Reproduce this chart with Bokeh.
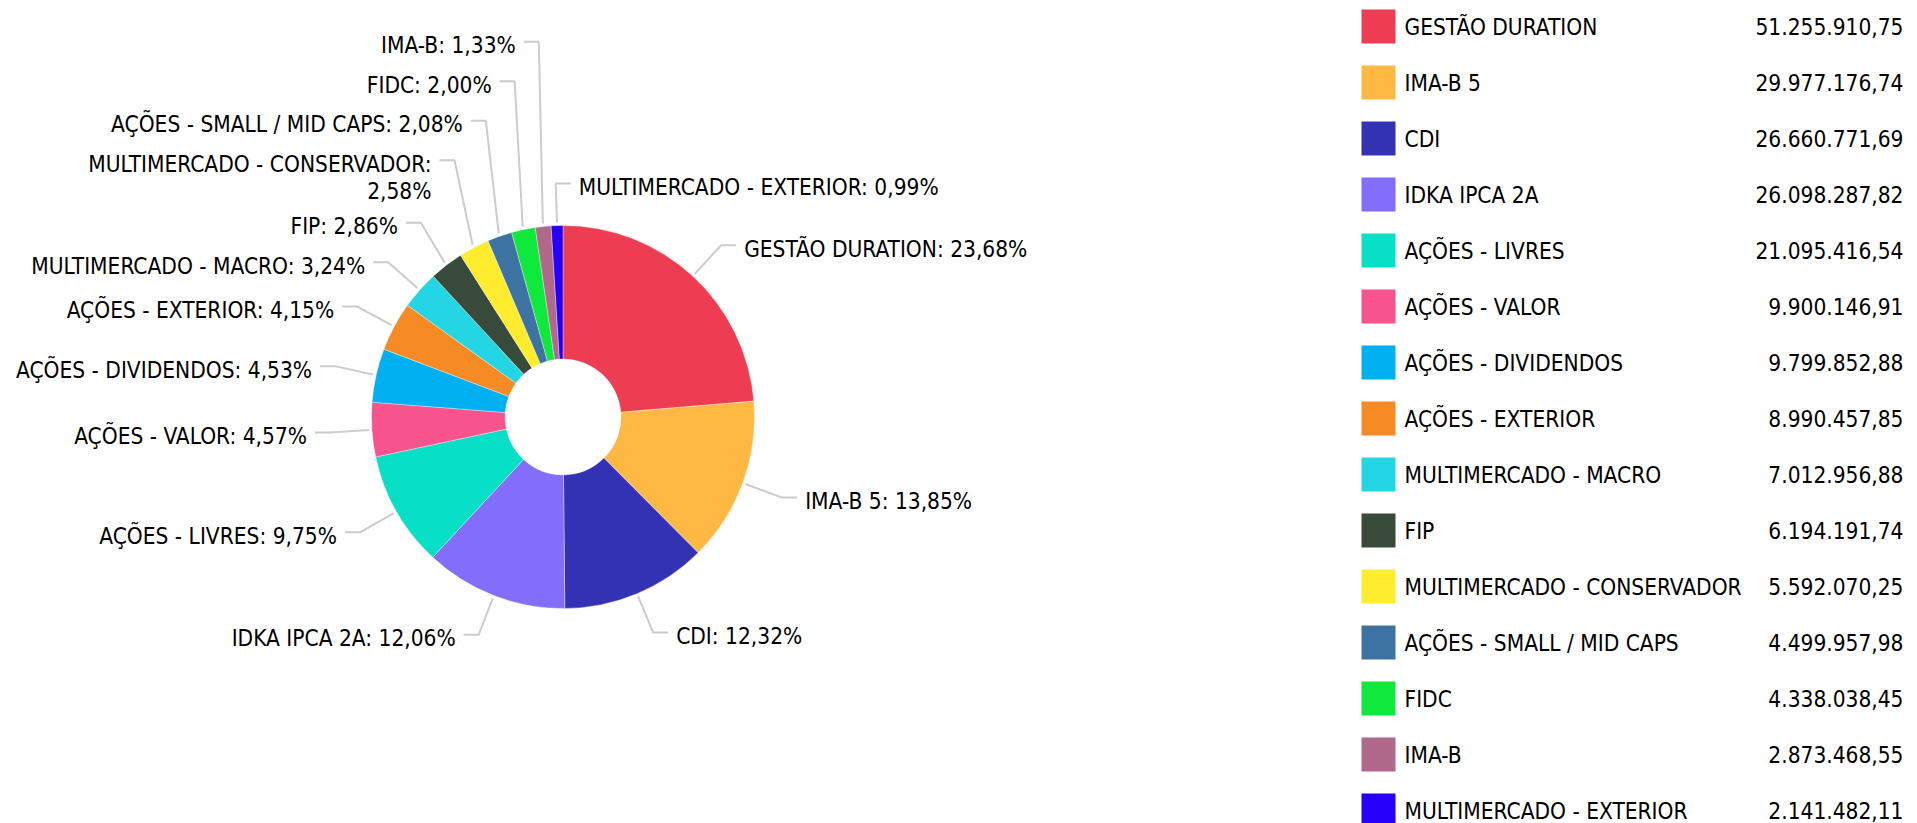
import math
from bokeh.plotting import figure
from bokeh.models import Range1d, ColumnDataSource
from bokeh.core.properties import value
from bokeh.embed import file_html
from bokeh.resources import INLINE

# ---------------- data ----------------
categories = [
    "GESTÃO DURATION", "IMA-B 5", "CDI", "IDKA IPCA 2A", "AÇÕES - LIVRES",
    "AÇÕES - VALOR", "AÇÕES - DIVIDENDOS", "AÇÕES - EXTERIOR",
    "MULTIMERCADO - MACRO", "FIP", "MULTIMERCADO - CONSERVADOR",
    "AÇÕES - SMALL / MID CAPS", "FIDC", "IMA-B", "MULTIMERCADO - EXTERIOR",
]
values = [
    51255910.75, 29977176.74, 26660771.69, 26098287.82, 21095416.54,
    9900146.91, 9799852.88, 8990457.85, 7012956.88, 6194191.74,
    5592070.25, 4499957.98, 4338038.45, 2873468.55, 2141482.11,
]
colors = [
    "#ee3d52", "#ffb844", "#3432b4", "#836efb", "#07e0c6",
    "#f7538c", "#01b0f1", "#f68b25", "#24d5e3", "#384a3a",
    "#ffec2e", "#3d73a3", "#0ee93c", "#b0698b", "#2600fb",
]

# ---------------- layout constants (screen px) ----------------
FONT = "DejaVu Sans Condensed"
FS = "22.5px"
W, H = 1909, 823
M = 0
CX, CY = 562.5, 416.5
R, R_IN = 191.5, 58
R_T0, R_EL = 194.5, 233.5
HOR = 15
GAP = 8
H1, HADD, LSTEP = 39.5, 23, 27.4
LEG_X0, LEG_SQ, LEG_TX, LEG_VX = 1361, 34, 1404, 1903
LEG_Y0, LEG_DY = 26, 56


def X(xs):
    return xs - M


def Y(ys):
    return H + M - ys


def br(v, nd=2):
    s = f"{v:,.{nd}f}"
    return s.replace(",", "#").replace(".", ",").replace("#", ".")


total = sum(values)
fracs = [v / total for v in values]
labels = [f"{c}: {br(f * 100)}%" for c, f in zip(categories, fracs)]

p = figure(width=W, height=H, x_range=Range1d(0, W), y_range=Range1d(0, H),
           output_backend="svg", toolbar_location=None, min_border=0)
p.axis.visible = False
p.grid.visible = False
p.outline_line_color = None
p.background_fill_color = "white"
p.border_fill_color = "white"

# ---------------- donut ----------------
starts, ends, mids = [], [], []
cum = 0.0
for f in fracs:
    starts.append(math.pi / 2 - 2 * math.pi * cum)
    mids.append(2 * math.pi * (cum + f / 2))
    cum += f
    ends.append(math.pi / 2 - 2 * math.pi * cum)

src = ColumnDataSource(dict(start=starts, end=ends, color=colors))
p.annular_wedge(x=X(CX), y=Y(CY), inner_radius=R_IN, outer_radius=R,
                start_angle="start", end_angle="end", direction="clock",
                fill_color="color", line_color="white", line_width=1,
                line_alpha=0.35, source=src)

# ---------------- labels ----------------
info = []
for i, a in enumerate(mids):
    s, c = math.sin(a), math.cos(a)
    side = "right" if s > -0.05 else "left"
    lab = labels[i]
    if len(lab) > 32:
        name, pct = lab.rsplit(": ", 1)
        lines = [name + ":", pct]
    else:
        lines = [lab]
    info.append(dict(a=a, side=side, lines=lines,
                     x0=CX + R_T0 * s, y0=CY - R_T0 * c,
                     ex=CX + R_EL * s, ey=CY - R_EL * c))

# left side: from bottom to top, push up
left = sorted([d for d in info if d["side"] == "left"], key=lambda d: d["a"])
prev_top = None
for d in left:
    h = H1 + (len(d["lines"]) - 1) * HADD
    if prev_top is not None:
        d["ey"] = min(d["ey"], prev_top - h + H1 / 2)
    prev_top = d["ey"] - H1 / 2

# right side: from top to bottom, push down
right = sorted([d for d in info if d["side"] == "right"],
               key=lambda d: d["a"] if d["a"] < math.pi else d["a"] - 2 * math.pi)
prev_bot = None
for d in right:
    h = H1 + (len(d["lines"]) - 1) * HADD
    if prev_bot is not None:
        d["ey"] = max(d["ey"], prev_bot + H1 / 2)
    prev_bot = d["ey"] - H1 / 2 + h

xs, ys = [], []
tl = dict(x=[], y=[], t=[])
tr = dict(x=[], y=[], t=[])
for d in info:
    sgn = 1 if d["side"] == "right" else -1
    hx = d["ex"] + sgn * HOR
    xs.append([X(d["x0"]), X(d["ex"]), X(hx)])
    ys.append([Y(d["y0"]), Y(d["ey"]), Y(d["ey"])])
    tx = hx + sgn * GAP
    tgt = tr if sgn > 0 else tl
    for k, line in enumerate(d["lines"]):
        tgt["x"].append(X(tx))
        tgt["y"].append(Y(d["ey"] + 3.5 + k * LSTEP))
        tgt["t"].append(line)

p.multi_line(xs=xs, ys=ys, line_color="#cccccc", line_width=2)
p.text(x="x", y="y", text="t", source=ColumnDataSource(tl), text_align="right",
       text_baseline="middle", text_font=value(FONT), text_font_size=FS,
       text_color="#000000")
p.text(x="x", y="y", text="t", source=ColumnDataSource(tr), text_align="left",
       text_baseline="middle", text_font=value(FONT), text_font_size=FS,
       text_color="#000000")

# ---------------- legend ----------------
ly = [LEG_Y0 + LEG_DY * i for i in range(len(categories))]
leg = ColumnDataSource(dict(
    sx=[X(LEG_X0 + LEG_SQ / 2)] * len(categories),
    tx=[X(LEG_TX)] * len(categories),
    vx=[X(LEG_VX)] * len(categories),
    y=[Y(v) for v in ly],
    name=categories,
    val=[br(v) for v in values],
    color=colors,
))
p.rect(x="sx", y="y", width=LEG_SQ, height=LEG_SQ, fill_color="color",
       line_color=None, source=leg)
p.text(x="tx", y="y", text="name", source=leg, text_align="left",
       text_baseline="middle", text_font=value(FONT), text_font_size=FS,
       text_color="#000000")
p.text(x="vx", y="y", text="val", source=leg, text_align="right",
       text_baseline="middle", text_font=value(FONT), text_font_size=FS,
       text_color="#000000")

open("out.html", "w").write(file_html(p, INLINE))
